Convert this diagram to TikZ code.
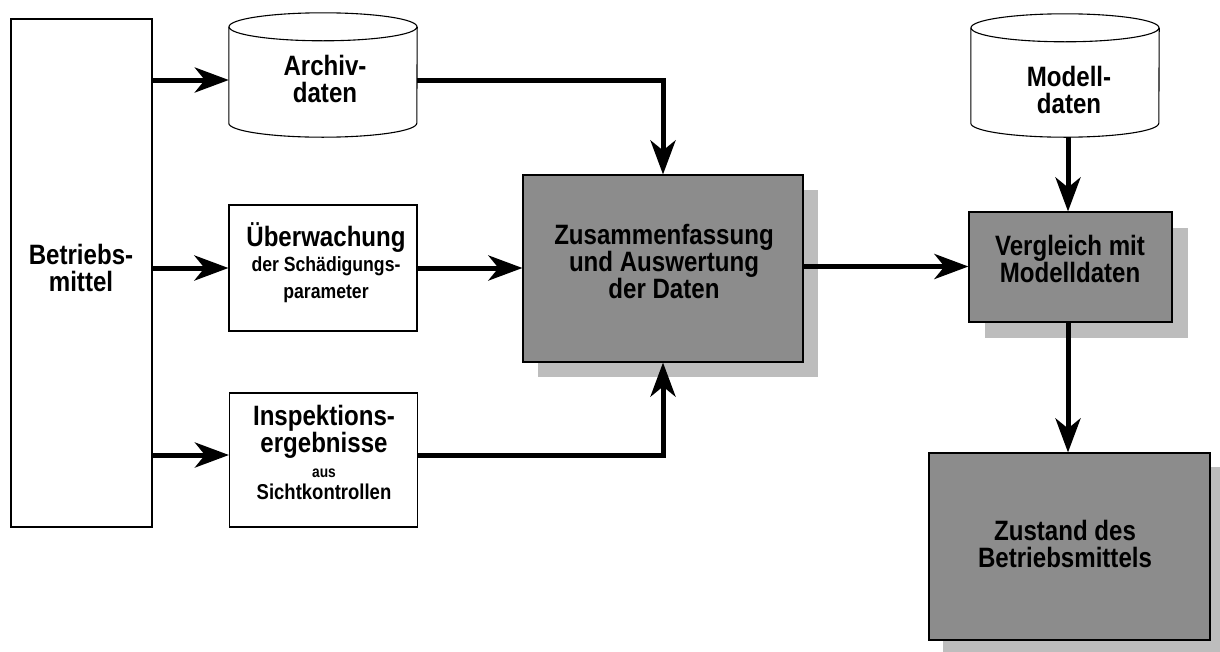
\documentclass[tikz,border=0pt]{standalone}
\usepackage{fontspec}
\usetikzlibrary{arrows.meta,shadows}
\newfontfamily\labfont{Liberation Sans}[FakeStretch=0.86]
\definecolor{boxgray}{gray}{0.55}
\definecolor{shadegray}{gray}{0.74}
\newcommand\szmain{\fontsize{28}{27}\selectfont}
\newcommand\szsmall{\fontsize{20.5}{20}\selectfont}
\newcommand\sztiny{\fontsize{16}{25}\selectfont}
\newcommand\szmid{\fontsize{21.5}{25}\selectfont}
\lineskiplimit=-100pt
% cylinder (data store) drawn inside a named node slot
\newcommand\drawcyl[1]{%
  \fill[white] ([yshift=-14pt]#1.north west) rectangle ([yshift=14pt]#1.south east);
  \fill[white] ([yshift=14pt]#1.south) ellipse [x radius=94pt, y radius=14pt];
  \draw[outline] ([yshift=-14pt]#1.north) ellipse [x radius=94pt, y radius=14pt];
  \draw[outline] ([yshift=-14pt]#1.north west) -- ([yshift=14pt]#1.south west)
    arc [start angle=180, end angle=360, x radius=94pt, y radius=14pt]
    -- ([yshift=-14pt]#1.north east);
}
\tikzset{
  outline/.style={draw=black, line width=1.1pt},
  whitebox/.style={outline, fill=white, rectangle, inner sep=0pt},
  slot/.style={rectangle, inner sep=0pt, minimum width=188pt, minimum height=124pt},
  graybox/.style={rectangle, draw=black, line width=1.1pt, fill=boxgray, inner sep=0pt,
    drop shadow={shadow xshift=#1, shadow yshift=-#1, fill=shadegray, opacity=1, draw=none}},
  flow/.style={line width=5pt, -{Stealth[length=34pt,width=25pt,inset=10pt]}},
  lbl/.style={align=center, inner sep=0pt, font=\labfont\bfseries\szmain},
}
\begin{document}
\begin{tikzpicture}[x=1pt, y=-1pt]
\useasboundingbox (0,0) rectangle (1220,651);
\clip (0,0) rectangle (1220,651);

% boxes and data stores
\node[whitebox, minimum width=141pt, minimum height=508pt] (betrieb) at (81.5,273) {};
\node[slot] (archiv) at (323,75) {};
\drawcyl{archiv}
\node[whitebox, minimum width=188pt, minimum height=126pt] (ueberw) at (323,268) {};
\node[whitebox, minimum width=188pt, minimum height=134pt] (insp) at (323.5,460) {};
\node[graybox=15pt, minimum width=280pt, minimum height=187pt] (zus) at (663,268.5) {};
\node[slot, minimum height=123pt] (modell) at (1065,75.5) {};
\drawcyl{modell}
\node[graybox=16pt, minimum width=203pt, minimum height=110pt] (vergl) at (1070.5,267) {};
\node[graybox=14pt, minimum width=281pt, minimum height=187pt] (zust) at (1069.5,546.5) {};

% labels
\node[lbl] (betrieb-t) at (81,268) {Betriebs-\\mittel};
\node[lbl] (archiv-t) at (325,79) {Archiv-\\daten};
\node[lbl] (ueberw-t) at (326,263) {\szmain Überwachung\\[-2pt] \szsmall der Schädigungs-\\ \szsmall parameter};
\node[lbl] (insp-t) at (324,452) {\szmain Inspektions-\\ \szmain ergebnisse\\[-2pt] \sztiny aus\\[-5pt] \szmid Sichtkontrollen};
\node[lbl] (zus-t) at (664,261) {Zusammenfassung\\und Auswertung\\der Daten};
\node[lbl] (modell-t) at (1069,90) {Modell-\\daten};
\node[lbl] (vergl-t) at (1070,259) {Vergleich mit\\Modelldaten};
\node[lbl] (zust-t) at (1065,544) {Zustand des\\Betriebsmittels};

% connectors
\draw[flow] ([yshift=-5pt]archiv.west -| betrieb.east) -- ([yshift=-5pt]archiv.west);
\draw[flow] (betrieb.east |- ueberw.west) -- (ueberw.west);
\draw[flow] ([yshift=5pt]insp.west -| betrieb.east) -- ([yshift=5pt]insp.west);
\draw[flow] (ueberw.east) -- (ueberw.east -| zus.west);
\draw[flow] ([yshift=-5pt]archiv.east) -| (zus.north);
\draw[flow] ([yshift=5pt]insp.east) -| (zus.south);
\draw[flow] ([yshift=2pt]zus.east) -- ([yshift=2pt]zus.east -| vergl.west);
\draw[flow] ([xshift=-2.5pt]vergl.north |- modell.south) -- ([xshift=-2.5pt]vergl.north);
\draw[flow] ([xshift=-2.5pt]vergl.south) -- ([xshift=-2.5pt]vergl.south |- zust.north);
\end{tikzpicture}
\end{document}
